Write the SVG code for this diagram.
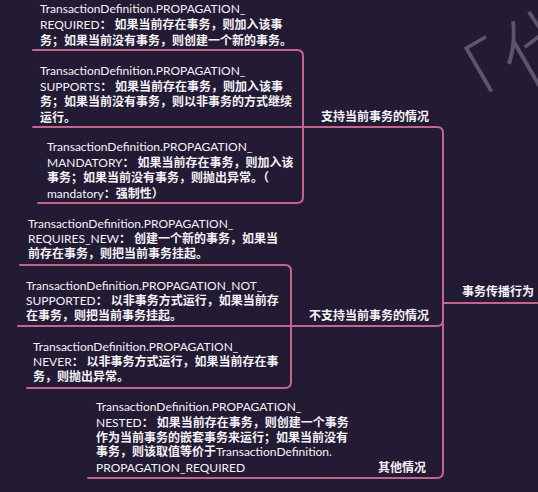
<svg xmlns="http://www.w3.org/2000/svg" width="538" height="492" viewBox="0 0 538 492">
<style>
.t{font-family:Lato,"Noto Sans CJK SC",sans-serif;font-size:12px;fill:#f4f2f6}
.c{font-weight:bold}
.lb{font-family:"Noto Sans CJK SC",sans-serif;font-size:12px;font-weight:bold;fill:#f4f2f6}
.ln{fill:none;stroke:#c6648c;stroke-width:2;stroke-linecap:round}
.wm{font-family:"Noto Sans CJK SC",sans-serif;font-size:80px;font-weight:300;fill:#5c566a}
</style>
<rect width="538" height="492" fill="#221b33"/>
<text class="wm" transform="translate(452,132) rotate(-30)">「代</text>
<g id="connectors">
<path class="ln" d="M443,303 H538"/>
<path class="ln" d="M303,127 H437 Q443,127 443,133 V472 Q443,478 437,478 H88"/>
<path class="ln" d="M291,326 H437 Q443,326 443,320"/>
<path class="ln" d="M33,50 H297 Q303,50 303,56 V197 Q303,203 297,203 H38"/>
<path class="ln" d="M33,127 H303"/>
<path class="ln" d="M20,265 H285 Q291,265 291,271 V382 Q291,388 285,388 H27"/>
<path class="ln" d="M18,326 H291"/>
</g>
<g id="root"><text class="lb" x="462" y="296">事务传播行为</text></g>
<g id="support"><text class="lb" x="321" y="121">支持当前事务的情况</text></g>
<g id="notsupport"><text class="lb" x="309" y="320">不支持当前事务的情况</text></g>
<g id="other"><text class="lb" x="378" y="472">其他情况</text></g>
<g id="required">
<text class="t" x="40" y="13">TransactionDefinition.PROPAGATION_</text>
<text class="t" x="40" y="29">REQUIRED<tspan class="c">： 如果当前存在事务，则加入该事</tspan></text>
<text class="t" x="40" y="45"><tspan class="c">务；如果当前没有事务，则创建一个新的事务。</tspan></text>
</g>
<g id="supports">
<text class="t" x="40" y="75">TransactionDefinition.PROPAGATION_</text>
<text class="t" x="40" y="91">SUPPORTS<tspan class="c">： 如果当前存在事务，则加入该事</tspan></text>
<text class="t" x="40" y="106"><tspan class="c">务；如果当前没有事务，则以非事务的方式继续</tspan></text>
<text class="t" x="40" y="122"><tspan class="c">运行。</tspan></text>
</g>
<g id="mandatory">
<text class="t" x="47" y="151">TransactionDefinition.PROPAGATION_</text>
<text class="t" x="47" y="167">MANDATORY<tspan class="c">： 如果当前存在事务，则加入该</tspan></text>
<text class="t" x="47" y="182"><tspan class="c">事务；如果当前没有事务，则抛出异常。（</tspan></text>
<text class="t" x="47" y="198">mandatory<tspan class="c">：强制性）</tspan></text>
</g>
<g id="requires_new">
<text class="t" x="28" y="228">TransactionDefinition.PROPAGATION_</text>
<text class="t" x="28" y="243">REQUIRES_NEW<tspan class="c">： 创建一个新的事务，如果当</tspan></text>
<text class="t" x="28" y="258"><tspan class="c">前存在事务，则把当前事务挂起。</tspan></text>
</g>
<g id="not_supported">
<text class="t" x="26" y="290">TransactionDefinition.PROPAGATION_NOT_</text>
<text class="t" x="26" y="305">SUPPORTED<tspan class="c">： 以非事务方式运行，如果当前存</tspan></text>
<text class="t" x="26" y="320"><tspan class="c">在事务，则把当前事务挂起。</tspan></text>
</g>
<g id="never">
<text class="t" x="33" y="351">TransactionDefinition.PROPAGATION_</text>
<text class="t" x="33" y="366">NEVER<tspan class="c">： 以非事务方式运行，如果当前存在事</tspan></text>
<text class="t" x="33" y="381"><tspan class="c">务，则抛出异常。</tspan></text>
</g>
<g id="nested">
<text class="t" x="96" y="411">TransactionDefinition.PROPAGATION_</text>
<text class="t" x="96" y="427">NESTED<tspan class="c">： 如果当前存在事务，则创建一个事务</tspan></text>
<text class="t" x="96" y="442"><tspan class="c">作为当前事务的嵌套事务来运行；如果当前没有</tspan></text>
<text class="t" x="96" y="456"><tspan class="c">事务，则该取值等价于</tspan>TransactionDefinition.</text>
<text class="t" x="96" y="472">PROPAGATION_REQUIRED</text>
</g>
</svg>
